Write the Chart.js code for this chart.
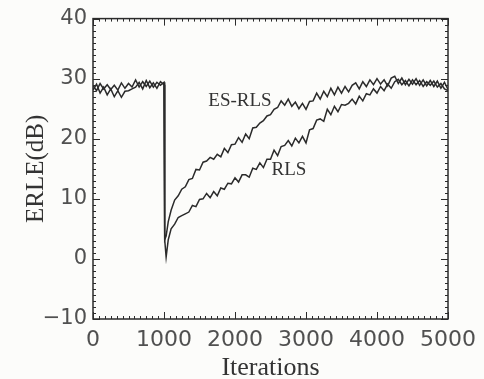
<!DOCTYPE html>
<html>
<head>
<meta charset="utf-8">
<script src="https://cdn.jsdelivr.net/npm/chart.js@4/dist/chart.umd.min.js"></script>
<style>
  html, body { margin: 0; padding: 0; background: #fcfcfa; }
  #wrap { width: 484px; height: 379px; position: relative; }
</style>
</head>
<body>
<div id="wrap"><canvas id="c" width="484" height="379"></canvas></div>
<script>
// ---- data ----
const iterations = [
  0,50,100,150,200,250,300,350,400,450,500,550,600,650,700,750,800,850,900,950,1000,
  1010,1030,1060,1100,
  1150,1200,1250,1300,1350,1400,1450,1500,1550,1600,1650,1700,1750,1800,1850,1900,1950,
  2000,2050,2100,2150,2200,2250,2300,2350,2400,2450,2500,2550,2600,2650,2700,2750,2800,2850,2900,2950,
  3000,3050,3100,3150,3200,3250,3300,3350,3400,3450,3500,3550,3600,3650,3700,3750,3800,3850,3900,3950,
  4000,4050,4100,4150,4200,4250,4300,4350,4400,4450,4500,4550,4600,4650,4700,4750,4800,4850,4900,4950,5000
];
const esRls = [
  28.9,28.0,29.2,28.3,29.0,28.2,28.9,28.1,29.3,28.4,29.2,28.6,29.8,28.6,29.5,28.7,29.6,28.6,29.4,28.9,29.4,
  3.2,3.8,6.2,8.1,
  9.8,10.5,11.6,12.0,13.2,13.4,14.9,14.8,16.1,16.3,16.9,16.6,17.4,17.0,18.4,17.7,19.0,
  19.1,20.2,19.4,20.8,20.0,21.8,21.9,22.6,23.0,23.8,24.0,24.9,25.2,26.3,25.6,26.6,25.4,26.1,25.0,25.9,
  24.9,26.2,26.3,27.6,26.6,27.9,27.0,28.4,27.3,28.6,27.6,28.7,27.8,28.9,29.3,28.3,29.5,28.7,29.8,29.0,
  30.0,29.1,29.8,28.8,30.1,30.4,29.2,30.1,29.0,29.9,29.1,30.0,28.9,29.8,28.8,29.7,28.7,29.6,28.4,29.4,28.2
];
const rls = [
  28.1,29.1,27.6,28.6,27.3,28.3,27.0,28.0,26.9,27.9,28.0,28.3,28.6,29.4,28.3,29.7,28.5,29.3,28.4,29.5,29.0,
  3.2,0.3,3.2,5.0,
  5.8,6.9,7.2,7.5,7.8,8.9,8.7,9.9,10.0,10.9,10.2,11.2,10.5,11.8,11.6,12.6,12.5,
  13.5,12.8,14.0,14.0,13.6,15.1,14.9,16.0,15.2,16.6,16.6,18.1,17.2,18.7,18.9,19.7,18.8,20.1,19.3,20.4,
  19.3,21.5,21.7,23.1,23.3,22.9,24.9,24.0,25.4,24.5,25.7,25.6,25.9,26.6,25.8,27.1,26.3,27.5,27.3,28.3,
  27.6,28.7,28.0,29.1,28.4,29.5,29.9,29.0,29.7,28.8,29.8,29.0,29.7,28.7,29.5,28.9,29.6,28.6,29.2,28.3,28.0
];
const xTicks = [0, 1000, 2000, 3000, 4000, 5000];
const yTicks = [-10, 0, 10, 20, 30, 40];
const curveLabels = ['ES-RLS', 'RLS'];
const curveLabelX = [2070, 2760];
const curveLabelY = [26.2, 14.8];

const ink = '#2b2b2b';

const framePlugin = {
  id: 'frame',
  afterDatasetsDraw(chart) {
    const {ctx, chartArea: a, scales: {x, y}} = chart;
    ctx.save();
    ctx.strokeStyle = ink;
    ctx.lineWidth = 1.5;
    ctx.strokeRect(a.left, a.top, a.right - a.left, a.bottom - a.top);
    ctx.lineWidth = 1;
    for (let v = 0; v <= 5000.001; v += 1000 / 12) {
      const px = Math.round(x.getPixelForValue(v)) + 0.5;
      ctx.beginPath();
      ctx.moveTo(px, a.bottom); ctx.lineTo(px, a.bottom - 3);
      ctx.moveTo(px, a.top); ctx.lineTo(px, a.top + 3);
      ctx.stroke();
    }
    xTicks.forEach(t => {
      const px = Math.round(x.getPixelForValue(t)) + 0.5;
      ctx.beginPath();
      ctx.moveTo(px, a.bottom); ctx.lineTo(px, a.bottom - 7);
      ctx.moveTo(px, a.top); ctx.lineTo(px, a.top + 7);
      ctx.stroke();
    });
    for (let v = -10; v <= 40.001; v += 1) {
      const py = Math.round(y.getPixelForValue(v)) + 0.5;
      const major = yTicks.some(t => Math.abs(t - v) < 0.01);
      const len = major ? 7 : 3;
      ctx.beginPath();
      ctx.moveTo(a.left, py); ctx.lineTo(a.left + len, py);
      ctx.moveTo(a.right, py); ctx.lineTo(a.right - len, py);
      ctx.stroke();
    }
    ctx.fillStyle = '#333';
    ctx.font = '19px "Liberation Serif", "DejaVu Serif", serif';
    ctx.textAlign = 'center';
    ctx.textBaseline = 'middle';
    curveLabels.forEach((t, i) => {
      ctx.fillText(t, x.getPixelForValue(curveLabelX[i]), y.getPixelForValue(curveLabelY[i]));
    });
    ctx.restore();
  }
};

new Chart(document.getElementById('c'), {
  type: 'line',
  data: {
    datasets: [
      { label: 'ES-RLS', data: iterations.map((v, i) => ({x: v, y: esRls[i]})),
        borderColor: ink, borderWidth: 1.5, pointRadius: 0, tension: 0, fill: false },
      { label: 'RLS', data: iterations.map((v, i) => ({x: v, y: rls[i]})),
        borderColor: ink, borderWidth: 1.5, pointRadius: 0, tension: 0, fill: false }
    ]
  },
  options: {
    responsive: false,
    animation: false,
    layout: { padding: { top: 17, right: 32, left: 0, bottom: 0 } },
    plugins: { legend: { display: false }, tooltip: { enabled: false } },
    scales: {
      x: {
        type: 'linear', min: 0, max: 5000,
        afterBuildTicks: s => { s.ticks = xTicks.map(v => ({value: v})); },
        afterFit: s => { s.height = 60; },
        grid: { display: false, drawTicks: false },
        border: { display: false },
        ticks: { padding: 8, color: '#505050', maxRotation: 0,
                 callback: v => String(v),
                 font: { family: '"DejaVu Sans", sans-serif', size: 22 } },
        title: { display: true, text: 'Iterations', color: '#333', padding: 0,
                 font: { family: '"Liberation Serif", serif', size: 26, lineHeight: 0.8 } }
      },
      y: {
        type: 'linear', min: -10, max: 40,
        afterBuildTicks: s => { s.ticks = yTicks.map(v => ({value: v})); },
        afterFit: s => { s.width = 93; },
        grid: { display: false, drawTicks: false },
        border: { display: false },
        ticks: { padding: 6, color: '#505050',
                 callback: v => (v < 0 ? '\u2212' + Math.abs(v) : String(v)),
                 font: { family: '"DejaVu Sans", sans-serif', size: 21 } },
        title: { display: true, text: 'ERLE(dB)', color: '#333', padding: { top: 21, bottom: 0 },
                 font: { family: '"Liberation Serif", serif', size: 25 } }
      }
    }
  },
  plugins: [framePlugin]
});
</script>
</body>
</html>
